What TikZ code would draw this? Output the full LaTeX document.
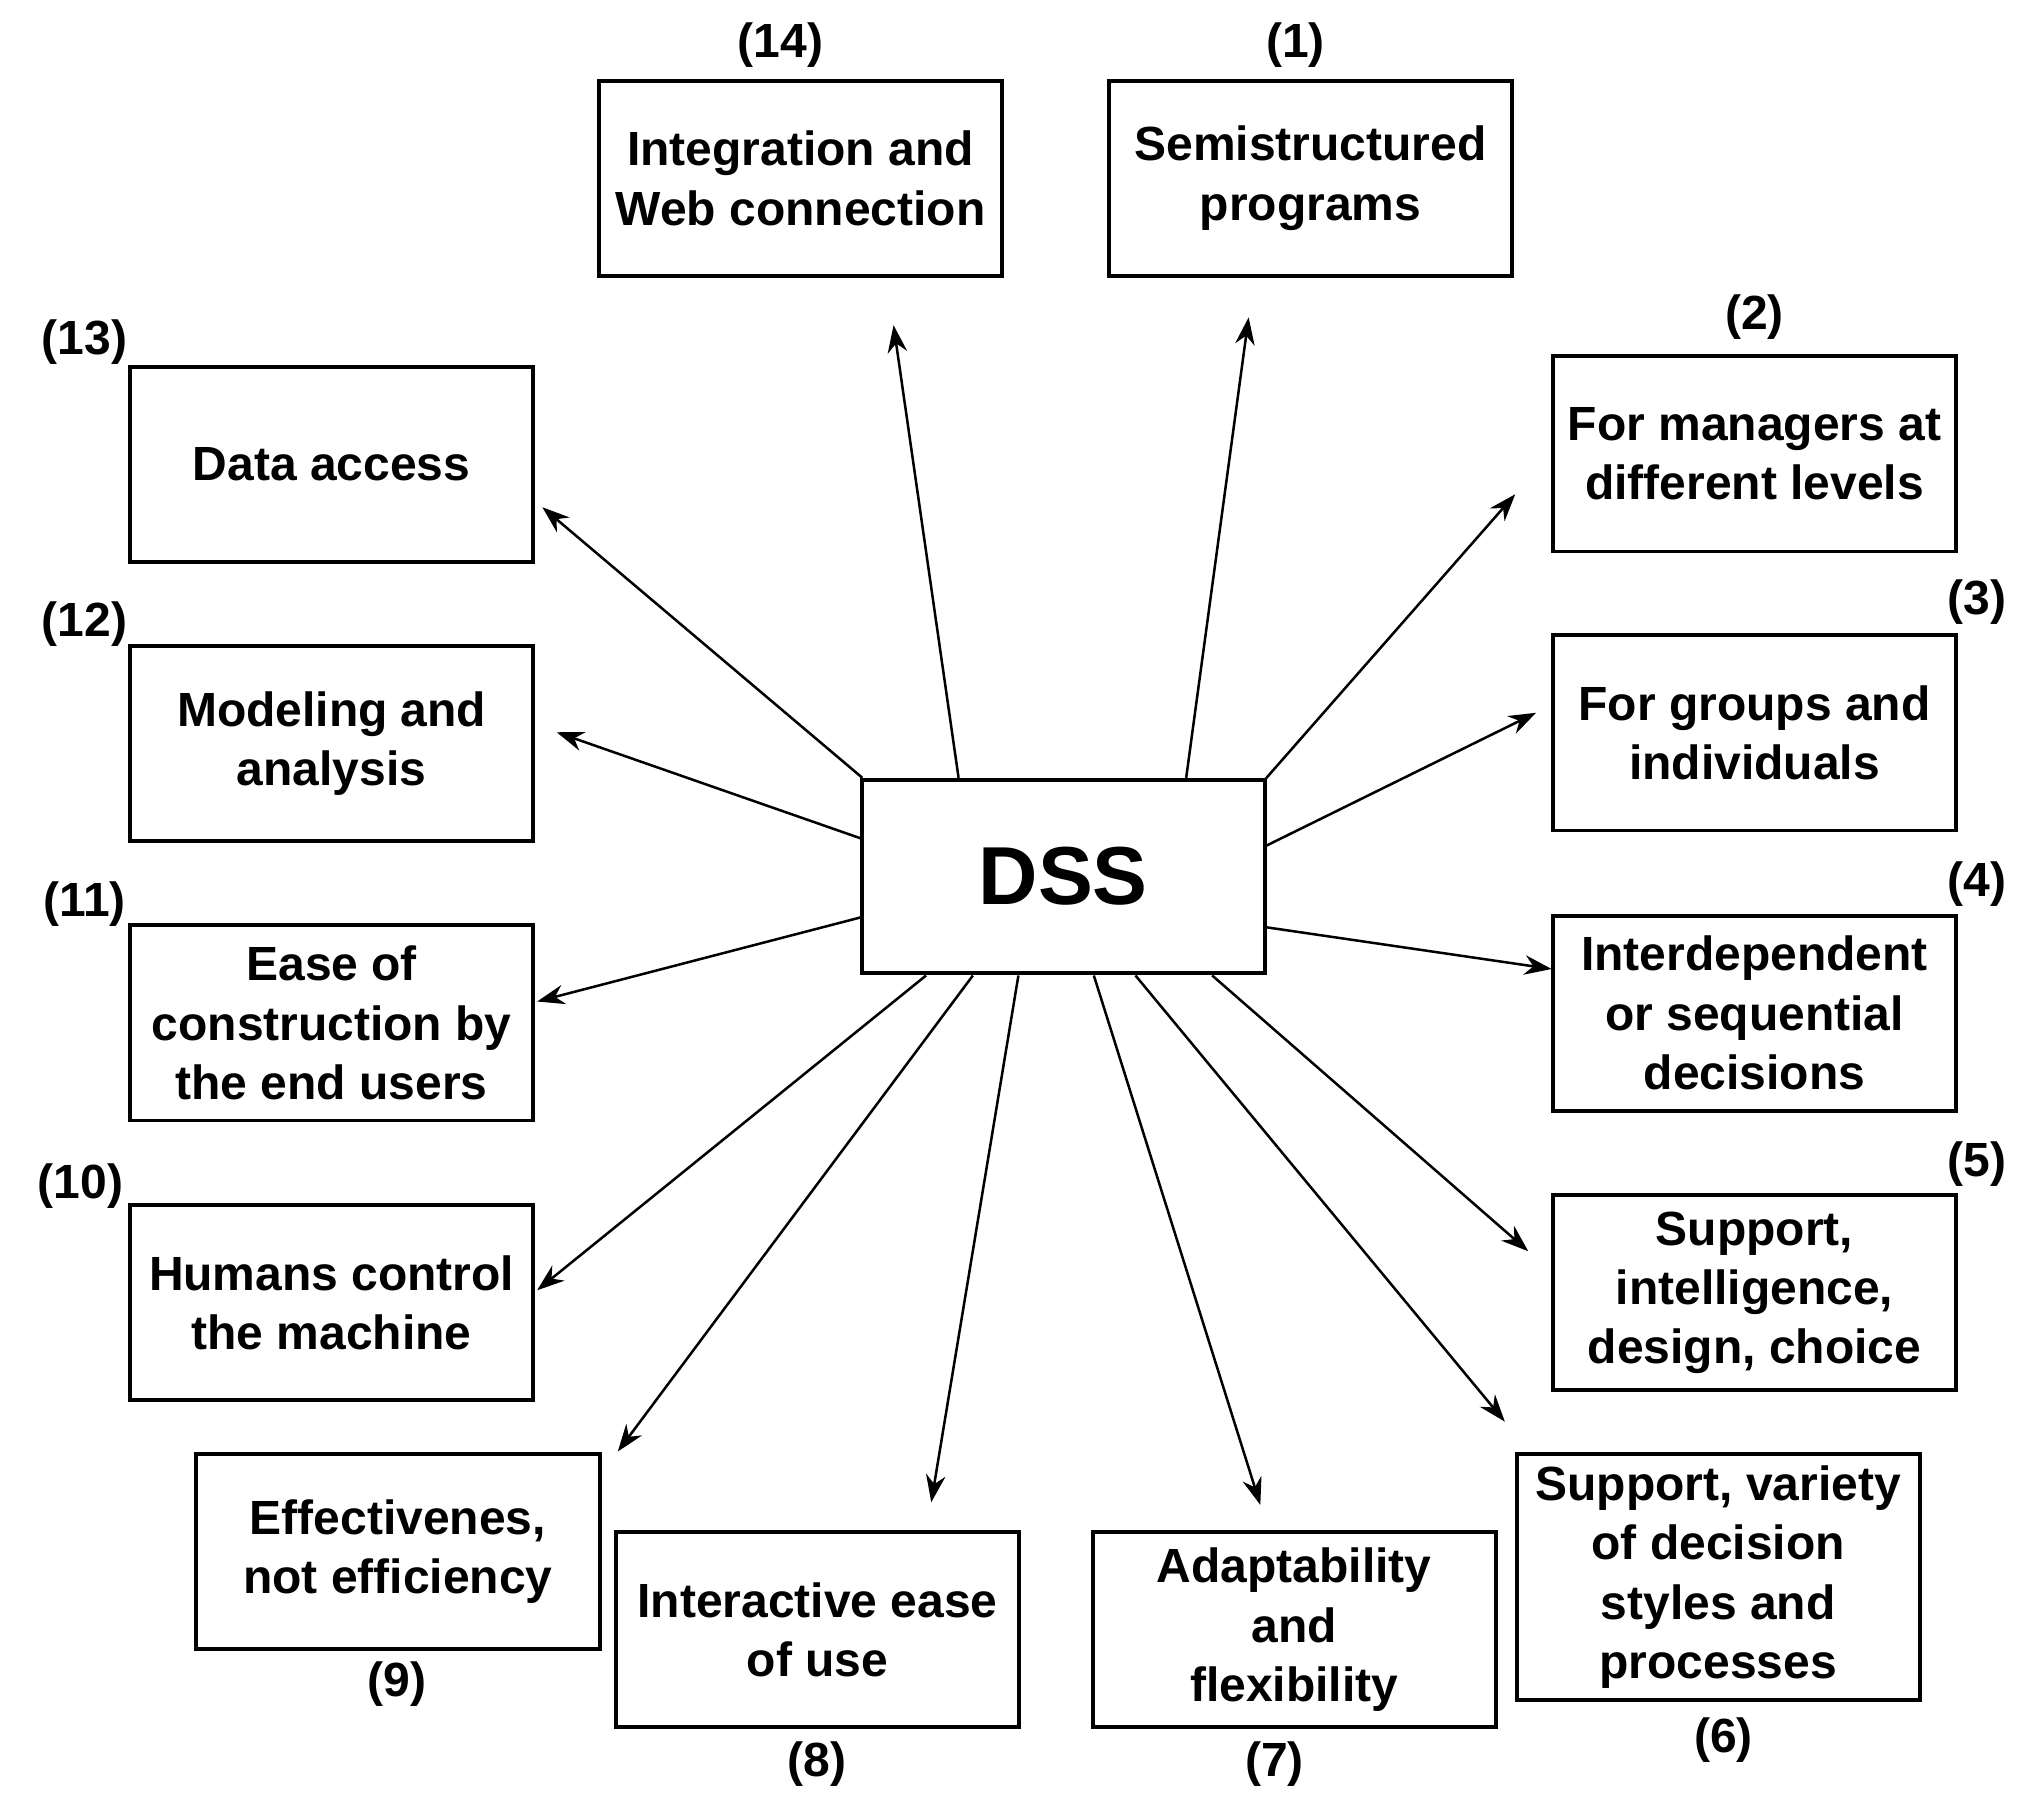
\documentclass[tikz,border=0pt]{standalone}
\usepackage{fontspec}
\setmainfont{Liberation Sans}
\usetikzlibrary{arrows.meta}
\begin{document}
\begin{tikzpicture}[x=0.02cm,y=-0.02cm,
  box/.style={draw,line width=1.7pt,minimum width=6.2cm,minimum height=3cm,align=center,inner sep=0pt,
    font=\fontsize{21}{26}\selectfont\bfseries},
  lab/.style={font=\fontsize{21}{26}\selectfont\bfseries},
  arr/.style={line width=1.1pt,-{Stealth[length=0.42cm,width=0.3cm]}}]
\useasboundingbox (0,0) rectangle (1560,1390);
\node[box,minimum height=2.96cm] (dss) at (817.5,674) {\fontsize{36}{40}\selectfont DSS};
\node[box] (b14) at (615.5,137) {Integration and\\Web connection};
\node[box] (b1) at (1007.5,137) {Semistructured\\programs};
\node[box] (b2) at (1349,349) {For managers at\\different levels};
\node[box] (b3) at (1349,563.5) {For groups and\\individuals};
\node[box] (b4) at (1349,779) {Interdependent\\or sequential\\decisions};
\node[box] (b5) at (1349,994) {Support,\\intelligence,\\design, choice};
\node[box,minimum height=3.78cm] (b6) at (1321,1212.5) {Support, variety\\of decision\\styles and\\processes};
\node[box] (b7) at (995,1253) {Adaptability\\and\\flexibility};
\node[box] (b8) at (628.5,1253) {Interactive ease\\of use};
\node[box] (b9) at (306,1193) {Effectivenes,\\not efficiency};
\node[box] (b10) at (255,1001.5) {Humans control\\the machine};
\node[box] (b11) at (255,786.5) {Ease of\\construction by\\the end users};
\node[box] (b12) at (255,571.5) {Modeling and\\analysis};
\node[box] (b13) at (255,357) {Data access};
\node[lab] (l14) at (600,35) {(14)};
\node[lab] (l1) at (996,35) {(1)};
\node[lab] (l2) at (1349,244) {(2)};
\node[lab] (l3) at (1520,463) {(3)};
\node[lab] (l4) at (1520,680) {(4)};
\node[lab] (l5) at (1520,895) {(5)};
\node[lab] (l6) at (1325,1338) {(6)};
\node[lab] (l7) at (980,1356) {(7)};
\node[lab] (l8) at (628,1356) {(8)};
\node[lab] (l9) at (305,1295) {(9)};
\node[lab] (l10) at (62,912) {(10)};
\node[lab] (l11) at (65,695) {(11)};
\node[lab] (l12) at (65,480) {(12)};
\node[lab] (l13) at (65,263) {(13)};
% arrow coordinates
\coordinate (s14) at (737,598); \coordinate (e14) at (687,250);
\coordinate (s1) at (912,598); \coordinate (e1) at (960,244);
\coordinate (s2) at (972,600); \coordinate (e2) at (1165,380);
\coordinate (s3) at (974,650); \coordinate (e3) at (1181,548);
\coordinate (s4) at (974,713); \coordinate (e4) at (1193,745);
\coordinate (s5) at (932,750); \coordinate (e5) at (1175,962);
\coordinate (s6) at (873,750); \coordinate (e6) at (1157,1093);
\coordinate (s7) at (841,750); \coordinate (e7) at (969,1157);
\coordinate (s8) at (783,750); \coordinate (e8) at (716,1155);
\coordinate (s9) at (748,750); \coordinate (e9) at (475,1116);
\coordinate (s10) at (712,750); \coordinate (e10) at (413,992);
\coordinate (s11) at (663,705); \coordinate (e11) at (413,770);
\coordinate (s12) at (663,645); \coordinate (e12) at (428,563);
\coordinate (s13) at (663,598); \coordinate (e13) at (417,390);
\foreach \i in {1,...,14} \draw[arr] (s\i) -- (e\i);
\end{tikzpicture}
\end{document}
